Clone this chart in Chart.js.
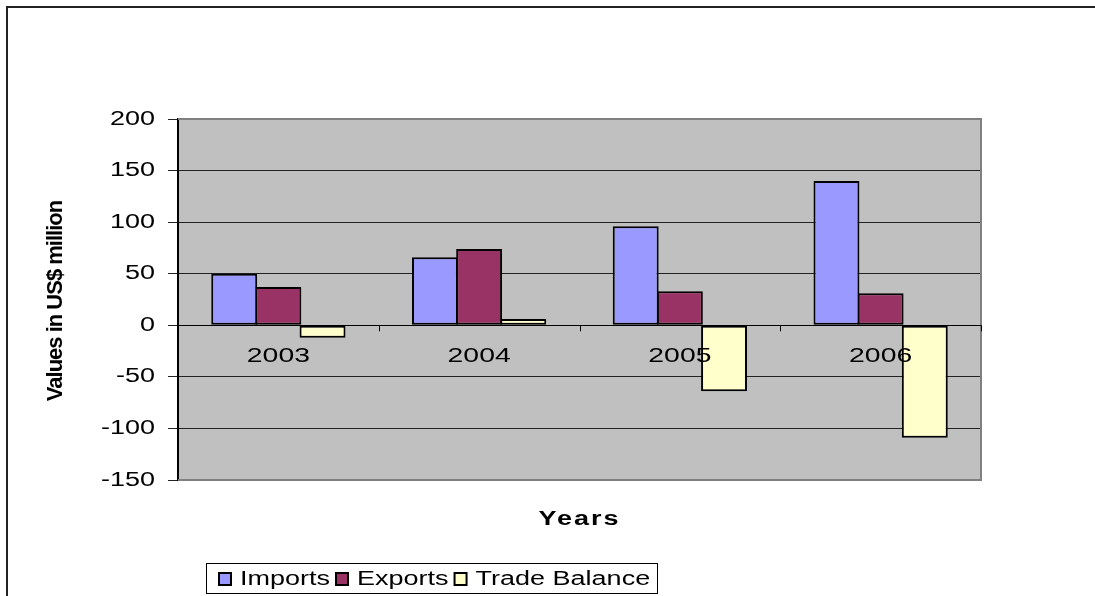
<!DOCTYPE html>
<html>
<head>
<meta charset="utf-8">
<script src="https://cdn.jsdelivr.net/npm/chart.js@4"></script>
<style>
  html, body { margin: 0; padding: 0; background: #fff; }
  #wrap { width: 1095px; height: 596px; }
</style>
</head>
<body>
<div id="wrap"><canvas id="tradeChart" width="1095" height="596"></canvas></div>
<script>
// data (US$ million)
const years = ['2003', '2004', '2005', '2006'];
const imports = [50, 66, 96, 140];
const exports = [37, 74, 33, 31];
const tradeBalance = [-12, 6, -64, -109];
const seriesNames = ['Imports', 'Exports', 'Trade Balance'];
const seriesColors = ['#9999FF', '#993366', '#FFFFCC'];

const FONT = "'Liberation Sans', Arial, sans-serif";
const STRETCH = 1.35; // the original text is drawn wide

function wideText(ctx, str, x, y, opts) {
    ctx.save();
    ctx.font = opts.font;
    ctx.fillStyle = '#000';
    ctx.textAlign = opts.align || 'center';
    ctx.textBaseline = 'middle';
    if (opts.spacing) ctx.letterSpacing = opts.spacing;
    ctx.translate(x, y);
    ctx.scale(opts.sx || STRETCH, 1);
    ctx.fillText(str, 0, 0);
    ctx.restore();
}

// grey plot background, frame, labels and legend
const excelLook = {
    id: 'excelLook',
    beforeDraw(chart) {
        const { ctx, chartArea: a } = chart;
        ctx.save();
        ctx.fillStyle = '#C0C0C0';
        ctx.fillRect(a.left, a.top, a.right - a.left, a.bottom - a.top);
        ctx.restore();
    },
    afterDraw(chart) {
        const { ctx, chartArea: a } = chart;
        const xs = chart.scales.x, ys = chart.scales.y;

        // outer chart border (runs off right and bottom edges)
        ctx.save();
        ctx.strokeStyle = '#222';
        ctx.lineWidth = 2;
        ctx.strokeRect(7, 7, 1200, 700);

        // plot frame: grey on top, right, bottom
        ctx.strokeStyle = '#808080';
        ctx.lineWidth = 2;
        ctx.beginPath();
        ctx.moveTo(a.left, a.top);
        ctx.lineTo(a.right, a.top);
        ctx.lineTo(a.right, a.bottom);
        ctx.lineTo(a.left, a.bottom);
        ctx.stroke();

        // category axis sits on zero
        const y0 = ys.getPixelForValue(0);
        ctx.strokeStyle = '#000';
        ctx.lineWidth = 1;
        ctx.beginPath();
        ctx.moveTo(a.left, Math.round(y0) + 0.5);
        ctx.lineTo(a.right, Math.round(y0) + 0.5);
        for (let i = 0; i <= years.length; i++) {
            const px = Math.round(xs.getPixelForValue(i - 0.5)) + 0.5;
            ctx.moveTo(px, y0);
            ctx.lineTo(px, y0 + 6);
        }
        ctx.stroke();
        ctx.restore();

        years.forEach((yr, i) => {
            wideText(ctx, yr, xs.getPixelForValue(i), y0 + 31, { font: '21px ' + FONT });
        });

        // value axis labels
        ys.ticks.forEach(t => {
            wideText(ctx, String(t.value), 155, ys.getPixelForValue(t.value),
                { font: '20px ' + FONT, align: 'right' });
        });

        // axis titles
        wideText(ctx, 'Years', (a.left + a.right) / 2, 519,
            { font: 'bold 20px ' + FONT, spacing: '1.5px' });
        ctx.save();
        ctx.translate(56, 301);
        ctx.rotate(-Math.PI / 2);
        ctx.font = 'bold 22px ' + FONT;
        ctx.fillStyle = '#000';
        ctx.textAlign = 'center';
        ctx.textBaseline = 'middle';
        ctx.letterSpacing = '-1px';
        ctx.fillText('Values in US$ million', 0, 0);
        ctx.restore();

        // legend in a box
        ctx.save();
        ctx.strokeStyle = '#000';
        ctx.lineWidth = 1;
        ctx.strokeRect(206.5, 563.5, 451, 30);
        ctx.font = '20px ' + FONT;
        let lx = 219;
        const ly = 579;
        seriesNames.forEach((name, i) => {
            ctx.fillStyle = seriesColors[i];
            ctx.fillRect(lx, ly - 6, 12, 12);
            ctx.strokeStyle = '#000';
            ctx.lineWidth = 2;
            ctx.strokeRect(lx, ly - 6, 12, 12);
            const tx = lx + 21;
            wideText(ctx, name, tx, ly, { font: '20px ' + FONT, align: 'left' });
            lx = tx + ctx.measureText(name).width * STRETCH + 6;
        });
        ctx.restore();
    }
};

// slightly wider than the slot so neighbouring bars share one border
const datasets = [imports, exports, tradeBalance].map((vals, i) => ({
    label: seriesNames[i],
    data: vals,
    backgroundColor: seriesColors[i],
    borderColor: '#000',
    borderWidth: 2,
    borderSkipped: false,
    categoryPercentage: 0.66,
    barPercentage: 1.04
}));

new Chart(document.getElementById('tradeChart'), {
    type: 'bar',
    data: { labels: years, datasets },
    options: {
        responsive: false,
        animation: false,
        layout: { padding: { left: 168, top: 119, right: 114, bottom: 116 } },
        scales: {
            x: { display: false },
            y: {
                min: -150,
                max: 200,
                ticks: { stepSize: 50, display: false },
                grid: { color: '#222', lineWidth: 1, tickLength: 10, drawTicks: true },
                border: { color: '#000', width: 2 }
            }
        },
        plugins: {
            legend: { display: false },
            tooltip: { enabled: false }
        }
    },
    plugins: [excelLook]
});
</script>
</body>
</html>
